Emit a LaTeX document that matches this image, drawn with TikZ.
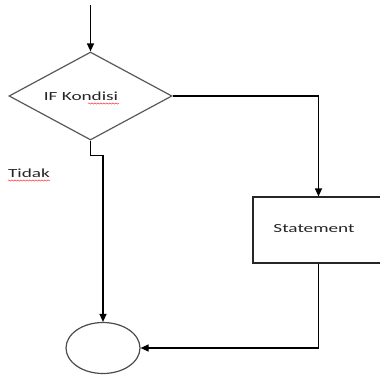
\documentclass[tikz,border=0pt]{standalone}
\usepackage{fontspec}
\usetikzlibrary{shapes.geometric,arrows.meta,decorations.pathmorphing}
\newfontfamily\diagfont[FakeStretch=1.55]{Carlito}
\tikzset{
  flow/.style={draw=black, line width=1.2pt, -{Triangle[length=8pt,width=7pt]}},
  decision/.style={diamond, draw=black!65, line width=1.2pt, minimum width=163pt, minimum height=88pt, inner sep=0pt},
  stmtbox/.style={rectangle, draw=black!85, line width=1.2pt, minimum width=131pt, minimum height=66pt, inner sep=0pt},
  terminal/.style={ellipse, draw=black!70, line width=1.2pt, minimum width=74pt, minimum height=51pt, inner sep=0pt},
  lbl/.style={font=\diagfont\fontsize{12.4}{14}\selectfont, text=black!85, inner sep=0pt},
  spell/.style={draw=red!80, line width=0.5pt, decorate, decoration={snake, amplitude=0.6pt, segment length=3pt}}
}
\begin{document}
\begin{tikzpicture}[x=1pt,y=-1pt]
  \useasboundingbox[fill=white] (0,0) rectangle (380,376);

  % shapes
  \node[decision] (cond) at (90.5,96) {};
  \node[stmtbox] (stmt) at (318.5,230) {};
  \node[terminal] (end) at (103,348) {};

  % texts
  \node[lbl] (condtxt) at (81,96) {IF Kondisi};
  \node[lbl] (stmttxt) at (314,229) {Statement};
  \node[lbl] (notxt) at (29,173) {Tidak};

  % spell-check marks under the Indonesian words
  \draw[spell] (88,103.5) -- (119,103.5);
  \draw[spell] (8,180.5) -- (50,180.5);

  % connectors
  \coordinate (start) at (90.5,5);
  \draw[flow] (start) -- (cond.north);
  \draw[flow] (cond.south) -- ++(0,15) -| (end.north);
  \draw[flow] (cond.east) -| (stmt.north);
  \draw[flow] (stmt.south) |- (end.east);
\end{tikzpicture}
\end{document}
